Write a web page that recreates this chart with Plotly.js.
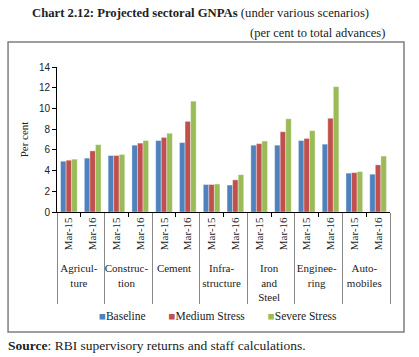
<!DOCTYPE html>
<html><head><meta charset="utf-8">
<script src="https://cdn.plot.ly/plotly-3.0.1.min.js"></script>
<style>html,body{margin:0;padding:0;background:#fff}#chart{width:419px;height:357px}</style>
</head><body><div id="chart"></div>
<script>
var sectors = ["Agricul-<br>ture","Construc-<br>tion","Cement","Infra-<br>structure","Iron<br>and<br>Steel","Enginee-<br>ring","Auto-<br>mobiles"];
var periods = ["Mar-15","Mar-16"];
var baseline = [4.9,5.2, 5.45,6.45, 6.9,6.7, 2.65,2.6, 6.45,6.45, 6.9,6.55, 3.75,3.65];
var medium   = [5.0,5.9, 5.45,6.65, 7.2,8.75, 2.65,3.1, 6.6,7.75, 7.1,9.05, 3.8,4.55];
var severe   = [5.1,6.5, 5.55,6.9, 7.6,10.7, 2.7,3.6, 6.85,9.0, 7.85,12.1, 3.9,5.4];
var seriesNames = ["Baseline","Medium Stress","Severe Stress"];
var colors = ["#4F81BD","#C0504D","#9BBB59"];

var xg = [], xp = [];
sectors.forEach(function(s){ periods.forEach(function(p){ xg.push(s); xp.push(p); }); });
var vals = [baseline, medium, severe];
var data = vals.map(function(v,i){
  return {type:"bar", x:[xg,xp], y:v, name:seriesNames[i], showlegend:false,
    marker:{color:colors[i], line:{color:"rgba(255,255,255,0.6)", width:0.6}}};
});
var serif = "Liberation Serif, Times New Roman, serif";
var legendText = seriesNames.map(function(n,i){
  return '<span style="color:' + colors[i] + '">■</span>' + n;
}).join('&nbsp;&nbsp;&nbsp;&nbsp;&nbsp;&nbsp;&nbsp;&nbsp;');
var layout = {
  width:419, height:357,
  margin:{l:57, r:29, t:67, b:145},
  barmode:"group", bargap:0.3, bargroupgap:0,
  showlegend:false,
  font:{family:serif, color:"#222"},
  xaxis:{type:"multicategory", showline:true, linecolor:"#000", linewidth:1,
    ticks:"outside", ticklen:4, tickcolor:"#000", tickangle:-90,
    tickfont:{family:serif, size:11, color:"#222"},
    dividercolor:"#888", dividerwidth:1, showgrid:false},
  yaxis:{range:[0,14], dtick:2, showline:true, linecolor:"#000", linewidth:1,
    ticks:"outside", ticklen:4, tickcolor:"#000", showgrid:false, zeroline:false,
    tickfont:{family:"Liberation Sans, Arial, sans-serif", size:10, color:"#222"},
    title:{text:"Per cent", font:{family:serif, size:11, color:"#222"}, standoff:8}},
  shapes:[{type:"rect", xref:"paper", yref:"paper", x0:-0.147, x1:1.042, y0:-0.828, y1:1.172,
    line:{color:"#7f7f7f", width:1.5}, fillcolor:"rgba(0,0,0,0)"}],
  annotations:[
    {xref:"paper", yref:"paper", x:0.43, y:1.0+(67-13)/145, xanchor:"center", yanchor:"middle", showarrow:false,
     text:"<b>Chart 2.12: Projected sectoral GNPAs</b> (under various scenarios)", font:{family:serif, size:12.7, color:"#222"}},
    {xref:"paper", yref:"paper", x:(387-57)/333, y:1.0+(67-33)/145, xanchor:"right", yanchor:"middle", showarrow:false,
     text:"(per cent to total advances)", font:{family:serif, size:12.5, color:"#222"}},
    {xref:"paper", yref:"paper", x:(97-57)/333, y:-(316-212)/145, xanchor:"left", yanchor:"middle", showarrow:false,
     text:legendText, font:{family:serif, size:11.5, color:"#222"}},
    {xref:"paper", yref:"paper", x:(6-57)/333, y:-(345-212)/145, xanchor:"left", yanchor:"middle", showarrow:false,
     text:"<b>Source</b>: RBI supervisory returns and staff calculations.", font:{family:serif, size:13.5, color:"#222"}}
  ]
};
Plotly.newPlot("chart", data, layout, {displayModeBar:false, staticPlot:true});
</script></body></html>
